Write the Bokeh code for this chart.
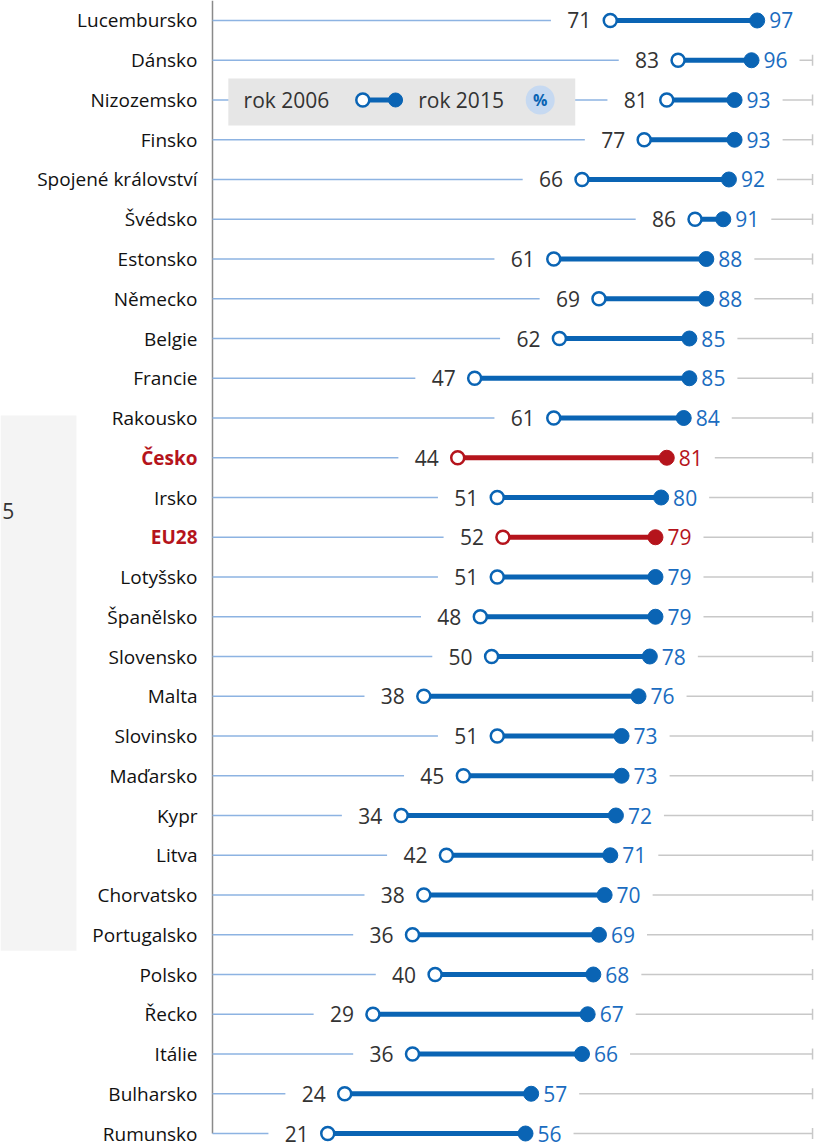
import numpy as np
from bokeh.plotting import figure
from bokeh.models import Range1d
from bokeh.core.properties import value
from bokeh.embed import file_html
from bokeh.resources import INLINE

# ---------------- data ----------------
countries = ["Lucembursko", "Dánsko", "Nizozemsko", "Finsko", "Spojené království",
             "Švédsko", "Estonsko", "Německo", "Belgie", "Francie", "Rakousko",
             "Česko", "Irsko", "EU28", "Lotyšsko", "Španělsko", "Slovensko", "Malta",
             "Slovinsko", "Maďarsko", "Kypr", "Litva", "Chorvatsko", "Portugalsko",
             "Polsko", "Řecko", "Itálie", "Bulharsko", "Rumunsko"]
y2006 = [71, 83, 81, 77, 66, 86, 61, 69, 62, 47, 61, 44, 51, 52, 51, 48, 50, 38,
         51, 45, 34, 42, 38, 36, 40, 29, 36, 24, 21]
y2015 = [97, 96, 93, 93, 92, 91, 88, 88, 85, 85, 84, 81, 80, 79, 79, 79, 78, 76,
         73, 73, 72, 71, 70, 69, 68, 67, 66, 57, 56]
highlight = ["Česko", "EU28"]
legend_labels = ["rok 2006", "rok 2015", "%"]
side_panel_text = ["5"]

# ---------------- style ----------------
BLUE = "#0a64b4"
BLUE_TXT = "#1a6cc0"
RED = "#b5141c"
LIGHT = "#8db3e2"
GRAY = "#c8c8c8"
FONT = value("Open Sans")

n = len(countries)
rows = np.arange(n)
v06 = np.array(y2006, dtype=float)
v15 = np.array(y2015, dtype=float)
hl = np.array([c in highlight for c in countries])
main_col = [RED if h else BLUE for h in hl]
txt_col = [RED if h else BLUE_TXT for h in hl]

X_LO, X_HI = -36.92, 109.27
AXIS_X = 0.6
END_X = 106.8
NAME_X = -2.05

p = figure(width=826, height=1148,
           x_range=Range1d(X_LO, X_HI), y_range=Range1d(28.377, -0.503),
           output_backend="svg", toolbar_location=None, min_border=0,
           x_axis_location=None, y_axis_location=None)
p.grid.visible = False
p.outline_line_color = None
p.background_fill_color = "white"

# left grey panel (cropped element of the original page)
p.quad(left=X_LO, right=-23.47, top=9.94, bottom=23.4,
       fill_color="#f4f4f4", line_color=None)
p.text(x=[-36.6], y=[12.33], text=side_panel_text, text_align="left", text_baseline="middle",
       text_font=FONT, text_font_size="21px", text_color="#333333")

# vertical axis line
p.segment(x0=AXIS_X, y0=-0.503, x1=AXIS_X, y1=n - 1, line_color="#8a8a8a", line_width=1.5)

# light blue guide from axis to the 2006 label
p.segment(x0=AXIS_X, y0=rows, x1=v06 - 10.5, y1=rows, line_color=LIGHT, line_width=1.5)

# grey guide to the right end
start = v15 + 8.5
m = start < 105.5
p.segment(x0=start[m], y0=rows[m], x1=END_X, y1=rows[m], line_color=GRAY, line_width=1.5)
p.scatter(x=np.full(m.sum(), END_X), y=rows[m], marker="dash", angle=np.pi / 2,
          size=11, line_color=GRAY, line_width=1.5)

# legend box (drawn over the guides)
LEG_Y = 2
p.quad(left=3.4, right=64.8, top=1.46, bottom=2.64, fill_color="#e6e6e6", line_color=None)
p.text(x=[6.1], y=[LEG_Y], text=[legend_labels[0]], text_align="left", text_baseline="middle",
       text_font=FONT, text_font_size="21px", text_color="#333333")
p.segment(x0=[27.2], y0=[LEG_Y], x1=[33.0], y1=[LEG_Y], line_color=BLUE, line_width=5)
p.scatter(x=[33.0], y=[LEG_Y], size=14, fill_color=BLUE, line_color=BLUE)
p.scatter(x=[27.2], y=[LEG_Y], size=13, fill_color="white", line_color=BLUE, line_width=2.5)
p.text(x=[37.0], y=[LEG_Y], text=[legend_labels[1]], text_align="left", text_baseline="middle",
       text_font=FONT, text_font_size="21px", text_color="#333333")
p.scatter(x=[58.6], y=[LEG_Y], size=29, fill_color="#c6d9f1", line_color=None)
p.text(x=[58.6], y=[LEG_Y], text=[legend_labels[2]], text_align="center", text_baseline="middle",
       text_font=FONT, text_font_size="16px", text_font_style="bold", text_color=BLUE)

# dumbbells
p.segment(x0=v06, y0=rows, x1=v15, y1=rows, line_color=main_col, line_width=5)
p.scatter(x=v15, y=rows, size=15, fill_color=main_col, line_color=main_col)
p.scatter(x=v06, y=rows, size=13, fill_color="white", line_color=main_col, line_width=2.5)

# value labels
p.text(x=v06, y=rows, text=[str(v) for v in y2006], x_offset=-19,
       text_align="right", text_baseline="middle", text_font=FONT,
       text_font_size="21px", text_color="#333333")
p.text(x=v15, y=rows, text=[str(v) for v in y2015], x_offset=12,
       text_align="left", text_baseline="middle", text_font=FONT,
       text_font_size="21px", text_color=txt_col)

# country names
norm = ~hl
p.text(x=np.full(norm.sum(), NAME_X), y=rows[norm],
       text=[c for c, h in zip(countries, hl) if not h],
       text_align="right", text_baseline="middle", text_font=FONT,
       text_font_size="19px", text_color="#111111")
p.text(x=np.full(hl.sum(), NAME_X), y=rows[hl],
       text=[c for c, h in zip(countries, hl) if h],
       text_align="right", text_baseline="middle", text_font=FONT,
       text_font_size="19px", text_font_style="bold", text_color=RED)

open("out.html", "w").write(file_html(p, INLINE))
